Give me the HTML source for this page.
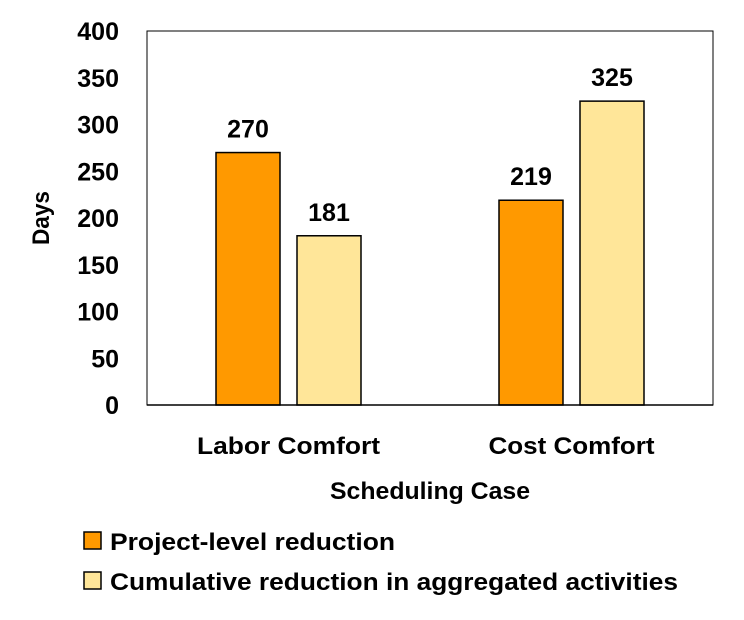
<!DOCTYPE html>
<html><head><meta charset="utf-8"><style>
html,body{margin:0;padding:0;background:#fff;}
svg{display:block;font-family:"Liberation Sans",sans-serif;font-weight:bold;}
</style></head><body>
<svg id="chart" width="744" height="620" viewBox="0 0 744 620">
<rect x="147" y="31" width="566" height="374" fill="none" stroke="#000" stroke-width="1"/>
<g id="bars"></g>
<g id="yticks"></g>
<g id="xlabels"></g>
<text transform="translate(49,218) rotate(-90)" text-anchor="middle" font-size="24" textLength="54" lengthAdjust="spacingAndGlyphs">Days</text>
<text x="430" y="499" text-anchor="middle" font-size="24" textLength="200" lengthAdjust="spacingAndGlyphs">Scheduling Case</text>
<g>
<rect x="84" y="532" width="17" height="17" fill="#FF9900" stroke="#000" stroke-width="1.5"/>
<text x="110" y="550" font-size="24" textLength="285" lengthAdjust="spacingAndGlyphs">Project-level reduction</text>
<rect x="84" y="572" width="17" height="17" fill="#FFE699" stroke="#000" stroke-width="1.5"/>
<text x="110" y="590" font-size="24" textLength="568" lengthAdjust="spacingAndGlyphs">Cumulative reduction in aggregated activities</text>
</g>
</svg>
<script>
const categories = ["Labor Comfort", "Cost Comfort"];
const projectLevel = [270, 219];
const cumulative = [181, 325];
const yTicks = [0, 50, 100, 150, 200, 250, 300, 350, 400];
const catLabelWidths = [183, 166];

const NS = "http://www.w3.org/2000/svg";
const x0 = 147, x1 = 713, y0 = 405, y1 = 31, yMax = 400;
function yScale(v){ return y0 - (v / yMax) * (y0 - y1); }
const band = (x1 - x0) / categories.length;
function xCenter(i){ return x0 + band * (i + 0.5); }
const barW = 64, gap = 17;

const bars = document.getElementById("bars");
const series = [
  {vals: projectLevel, color: "#FF9900", name: "project"},
  {vals: cumulative, color: "#FFE699", name: "cumulative"}
];
categories.forEach((c, i) => {
  series.forEach((s, k) => {
    const bx = xCenter(i) + (k === 0 ? -(barW + gap / 2) : gap / 2);
    const top = yScale(s.vals[i]);
    const r = document.createElementNS(NS, "rect");
    r.setAttribute("x", bx); r.setAttribute("y", top);
    r.setAttribute("width", barW); r.setAttribute("height", y0 - top);
    r.setAttribute("fill", s.color); r.setAttribute("stroke", "#000"); r.setAttribute("stroke-width", "1.5");
    
    
    bars.appendChild(r);
    const t = document.createElementNS(NS, "text");
    t.setAttribute("x", bx + barW / 2); t.setAttribute("y", top - 15);
    t.setAttribute("text-anchor", "middle"); t.setAttribute("font-size", "25");
    t.textContent = s.vals[i];
    
    
    bars.appendChild(t);
  });
  const xl = document.createElementNS(NS, "text");
  xl.setAttribute("x", xCenter(i)); xl.setAttribute("y", 454);
  xl.setAttribute("text-anchor", "middle"); xl.setAttribute("font-size", "24");
  xl.setAttribute("textLength", catLabelWidths[i]); xl.setAttribute("lengthAdjust", "spacingAndGlyphs");
  xl.textContent = c;
  
  
  document.getElementById("xlabels").appendChild(xl);
});
const axis = document.createElementNS(NS, "line");
axis.setAttribute("x1", x0); axis.setAttribute("x2", x1); axis.setAttribute("y1", y0); axis.setAttribute("y2", y0);
axis.setAttribute("stroke", "#000"); axis.setAttribute("stroke-width", "1.5");


bars.appendChild(axis);
const yt = document.getElementById("yticks");
yTicks.forEach(v => {
  const t = document.createElementNS(NS, "text");
  t.setAttribute("x", 119); t.setAttribute("y", yScale(v) + 9);
  t.setAttribute("text-anchor", "end"); t.setAttribute("font-size", "25");
  t.textContent = v;
  
  
  yt.appendChild(t);
});
</script>
</body></html>
